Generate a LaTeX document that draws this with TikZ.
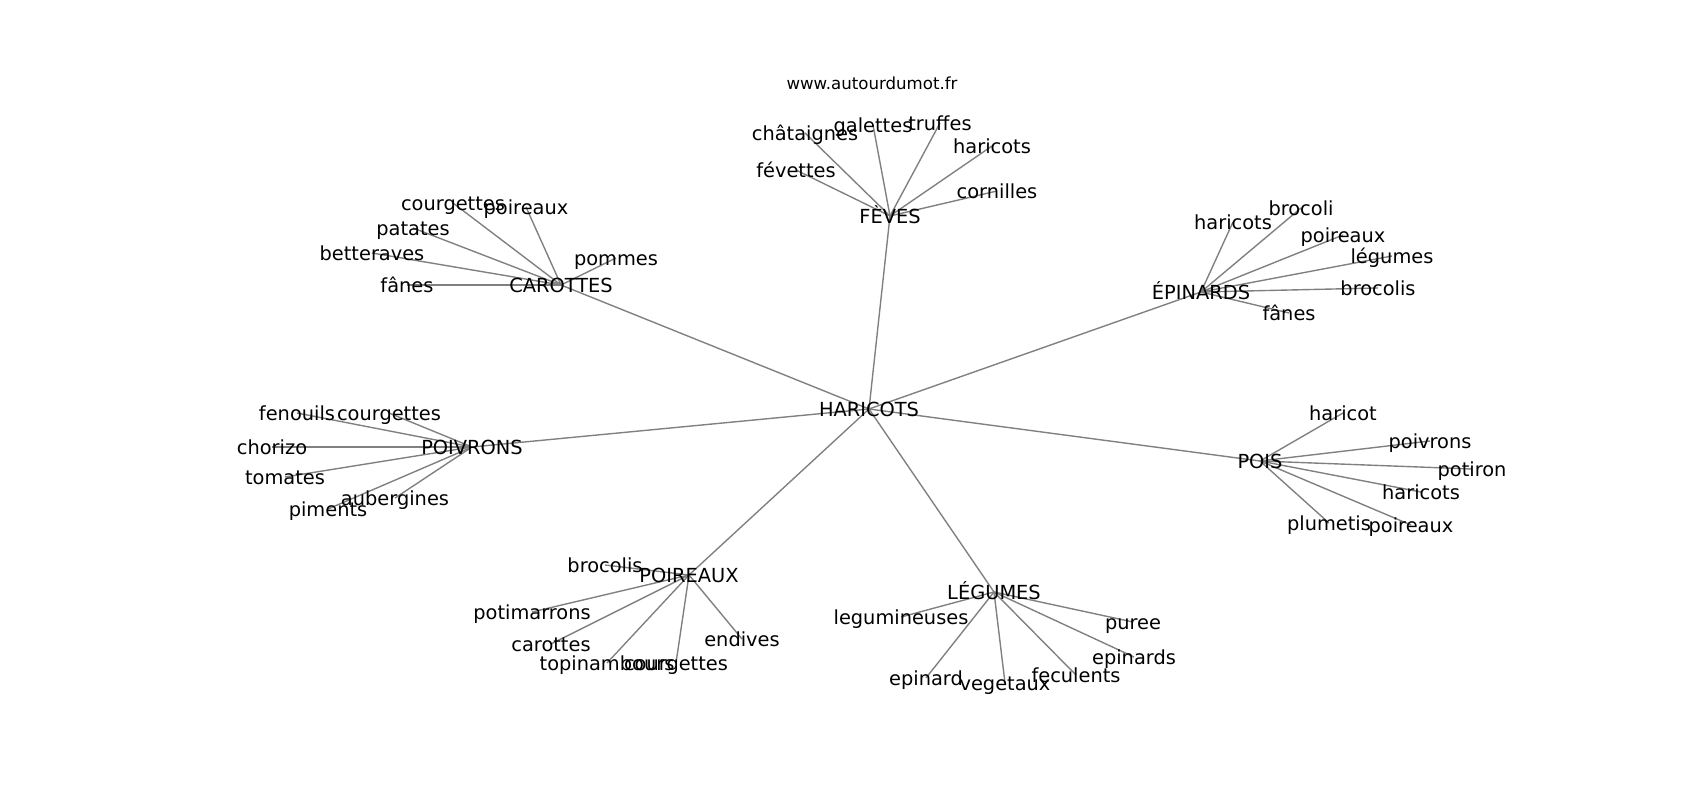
\documentclass[tikz,border=0pt]{standalone}
\usepackage{fontspec}
\setmainfont{DejaVu Sans}
\usetikzlibrary{backgrounds}
\tikzset{
  word/.style={font=\fontsize{14}{16}\selectfont, inner sep=0pt,
               text height=14.6pt, text depth=3.3pt},
  site/.style={font=\fontsize{12}{14}\selectfont, inner sep=0pt},
  links/.style={every edge/.style={draw=gray, line width=1bp}},
}
\begin{document}
\begin{tikzpicture}[x=0.01in, y=-0.01in]
  \useasboundingbox (0,0) rectangle (1700,800);
  \node[site] (W) at (872,83) {www.autourdumot.fr};

  \node[word] (H) at (869,409) {HARICOTS};
  \node[word] (C) at (561,285) {CAROTTES};
  \node[word] (F) at (890,216) {FÈVES};
  \node[word] (E) at (1201,292) {ÉPINARDS};
  \node[word] (V) at (472,447) {POIVRONS};
  \node[word] (P) at (1260,461) {POIS};
  \node[word] (R) at (689,575) {POIREAUX};
  \node[word] (L) at (994,592) {LÉGUMES};

  \node[word] (C1) at (453,203) {courgettes};
  \node[word] (C2) at (526,207) {poireaux};
  \node[word] (C3) at (413,228) {patates};
  \node[word] (C4) at (372,253) {betteraves};
  \node[word] (C5) at (407,285) {fânes};
  \node[word] (C6) at (616,258) {pommes};

  \node[word] (F1) at (805,133) {châtaignes};
  \node[word] (F2) at (873,125) {galettes};
  \node[word] (F3) at (940,123) {truffes};
  \node[word] (F4) at (992,146) {haricots};
  \node[word] (F5) at (997,191) {cornilles};
  \node[word] (F6) at (796,170) {févettes};

  \node[word] (E1) at (1233,222) {haricots};
  \node[word] (E2) at (1301,208) {brocoli};
  \node[word] (E3) at (1343,235) {poireaux};
  \node[word] (E4) at (1392,256) {légumes};
  \node[word] (E5) at (1378,288) {brocolis};
  \node[word] (E6) at (1289,313) {fânes};

  \node[word] (V1) at (297,413) {fenouils};
  \node[word] (V2) at (389,413) {courgettes};
  \node[word] (V3) at (272,447) {chorizo};
  \node[word] (V4) at (285,477) {tomates};
  \node[word] (V5) at (395,498) {aubergines};
  \node[word] (V6) at (328,509) {piments};

  \node[word] (P1) at (1343,413) {haricot};
  \node[word] (P2) at (1430,441) {poivrons};
  \node[word] (P3) at (1472,469) {potiron};
  \node[word] (P4) at (1421,492) {haricots};
  \node[word] (P5) at (1329,523) {plumetis};
  \node[word] (P6) at (1411,525) {poireaux};

  \node[word] (R1) at (605,565) {brocolis};
  \node[word] (R2) at (532,612) {potimarrons};
  \node[word] (R3) at (551,644) {carottes};
  \node[word] (R4) at (607,663) {topinambours};
  \node[word] (R5) at (676,663) {courgettes};
  \node[word] (R6) at (742,639) {endives};

  \node[word] (L1) at (901,617) {legumineuses};
  \node[word] (L2) at (1133,622) {puree};
  \node[word] (L3) at (1134,657) {epinards};
  \node[word] (L4) at (926,678) {epinard};
  \node[word] (L5) at (1005,683) {vegetaux};
  \node[word] (L6) at (1076,675) {feculents};

  \begin{scope}[on background layer, links]
    \path (H.center) edge (C.center) edge (F.center) edge (E.center)
                     edge (V.center) edge (P.center) edge (R.center)
                     edge (L.center);
    \path (C.center) edge (C1.center) edge (C2.center) edge (C3.center)
                     edge (C4.center) edge (C5.center) edge (C6.center);
    \path (F.center) edge (F1.center) edge (F2.center) edge (F3.center)
                     edge (F4.center) edge (F5.center) edge (F6.center);
    \path (E.center) edge (E1.center) edge (E2.center) edge (E3.center)
                     edge (E4.center) edge (E5.center) edge (E6.center);
    \path (V.center) edge (V1.center) edge (V2.center) edge (V3.center)
                     edge (V4.center) edge (V5.center) edge (V6.center);
    \path (P.center) edge (P1.center) edge (P2.center) edge (P3.center)
                     edge (P4.center) edge (P5.center) edge (P6.center);
    \path (R.center) edge (R1.center) edge (R2.center) edge (R3.center)
                     edge (R4.center) edge (R5.center) edge (R6.center);
    \path (L.center) edge (L1.center) edge (L2.center) edge (L3.center)
                     edge (L4.center) edge (L5.center) edge (L6.center);
  \end{scope}
\end{tikzpicture}
\end{document}
